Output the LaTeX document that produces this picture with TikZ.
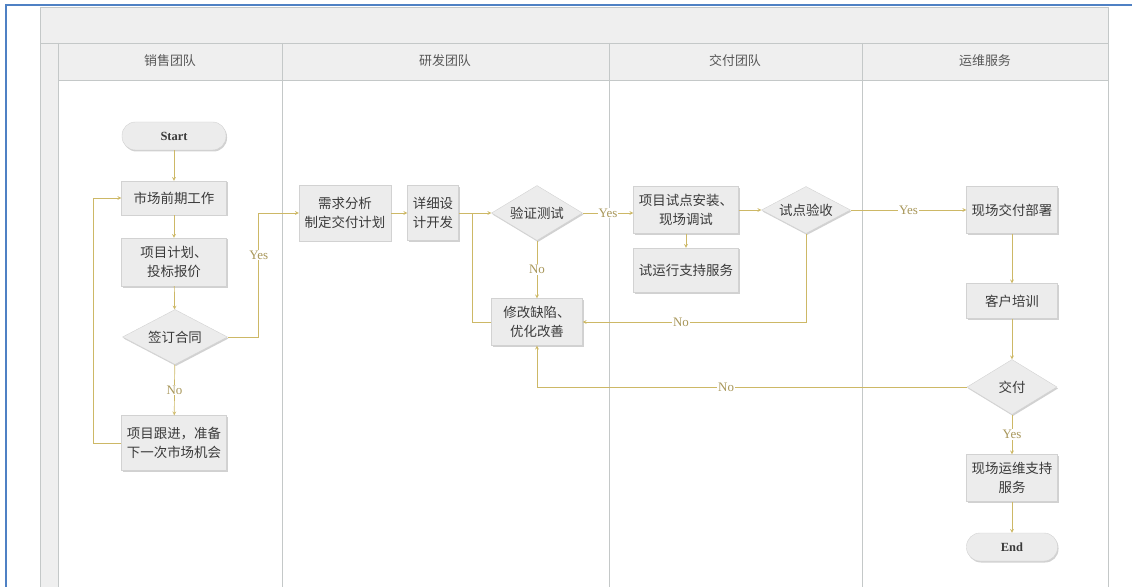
\documentclass[tikz,border=0pt]{standalone}
\usepackage{fontspec}
\setmainfont{Liberation Serif}
\newfontfamily\cjk{Noto Sans CJK SC}
\usetikzlibrary{shapes.geometric,shadows}
\definecolor{flowline}{HTML}{CDB866}
\definecolor{flowlabel}{HTML}{A8975A}
\definecolor{lanegray}{HTML}{C4C8C8}
\definecolor{headfill}{HTML}{EFEFEF}
\definecolor{boxfill}{HTML}{ECECEC}
\definecolor{boxline}{HTML}{D2D2D2}
\definecolor{frameblue}{HTML}{4F81C4}
\definecolor{txt}{HTML}{3A3A3A}

\begin{document}
\begin{tikzpicture}[x=1bp,y=-1bp,
	boxshadow/.style={drop shadow={shadow xshift=1bp,shadow yshift=-1.5bp,fill=black,opacity=0.18}},
	task/.style 2 args={draw=boxline,fill=boxfill,boxshadow,text=txt,align=center,inner sep=0pt,
		minimum width=#1,minimum height=#2,font=\cjk\fontsize{13.5}{19}\selectfont},
	decision/.style 2 args={diamond,aspect=2,draw=boxline,fill=boxfill,boxshadow,text=txt,inner sep=0pt,
		minimum width=#1,minimum height=#2,font=\cjk\fontsize{13.5}{19}\selectfont},
	term/.style={draw=boxline,fill=boxfill,boxshadow,text=txt,rounded corners=13.5bp,inner sep=0pt,
		minimum width=#1,minimum height=28bp,font=\bfseries\fontsize{12.5}{14}\selectfont},
	lane/.style={text=txt!85,font=\cjk\fontsize{13}{15}\selectfont},
	flow/.style={draw=flowline,line width=0.7bp,-stealth},
	link/.style={draw=flowline,line width=0.7bp},
	lbl/.style={fill=white,text=flowlabel,inner sep=1bp,font=\fontsize{13}{13}\selectfont}]
	\useasboundingbox (0,0) rectangle (1136,587);
	\fill[headfill] (40,7) rectangle (1108,80);
	\fill[headfill] (40,43) rectangle (58,587);
	\draw[lanegray,line width=0.8bp] (40,587)--(40,7)--(1108,7)--(1108,587);
	\draw[lanegray,line width=0.8bp] (40,43)--(1108,43);
	\draw[lanegray,line width=0.8bp] (58,80)--(1108,80);
	\foreach \xx in {58,282,609,862}
		\draw[lanegray,line width=0.8bp] (\xx,43)--(\xx,587);
	\draw[frameblue,line width=2bp] (6,587)--(6,5)--(1132,5);
	\node[lane] (salesh) at (170,61) {销售团队};
	\node[lane] (rdh) at (445,61) {研发团队};
	\node[lane] (delivh) at (735,61) {交付团队};
	\node[lane] (opsh) at (985,61) {运维服务};

	\node[term=104bp] (start) at (174,136) {Start};
	\node[task={105bp}{34bp}] (market) at (174,198) {市场前期工作};
	\node[task={105bp}{48bp}] (bid) at (174,262) {项目计划、\\投标报价};
	\node[decision={105bp}{55bp}] (sign) at (175,337) {签订合同};
	\node[task={105bp}{55bp}] (follow) at (174,443) {项目跟进，准备\\下一次市场机会};

	\node[task={92bp}{56bp}] (req) at (345,213) {需求分析\\制定交付计划};
	\node[task={51bp}{55bp}] (dev) at (433,213) {详细设\\计开发};
	\node[decision={91bp}{55bp}] (verify) at (537,213) {验证测试};
	\node[task={91bp}{47bp}] (fix) at (537,322) {修改缺陷、\\优化改善};
	\coordinate (merge) at (472,213);

	\node[task={105bp}{47bp}] (pilot) at (686,210) {项目试点安装、\\现场调试};
	\node[task={105bp}{44bp}] (trial) at (686,270) {试运行支持服务};
	\node[decision={89bp}{47bp}] (accept) at (806,210) {试点验收};

	\node[task={91bp}{47bp}] (deploy) at (1012,210) {现场交付部署};
	\node[task={91bp}{35bp}] (train) at (1012,301) {客户培训};
	\node[decision={90bp}{55bp}] (deliver) at (1012,387) {交付};
	\node[task={91bp}{47bp}] (support) at (1012,478) {现场运维支持\\服务};
	\node[term=91bp] (end) at (1012,547) {End};

	\draw[flow] (start)--(market);
	\draw[flow] (market)--(bid);
	\draw[flow] (bid)--(sign);
	\draw[flow] (sign)-- node[lbl]{No} (follow);
	\draw[flow] (follow.west)--++(-28,0) |- (market.west);
	\draw[flow] (sign.east)--++(31,0) |- node[lbl,pos=0.33]{Yes} (req.west);
	\draw[flow] (req)--(dev);
	\draw[flow] (dev)--(verify);
	\draw[flow] (verify)-- node[lbl]{No} (fix);
	\draw[link] (fix.west) -| (merge);
	\draw[flow] (verify.east)-- node[lbl]{Yes} (verify.east -| pilot.west);
	\draw[flow] (pilot)--(trial);
	\draw[flow] (pilot)--(accept);
	\draw[flow] (accept.south) |- node[lbl,pos=0.78]{No} (fix.east);
	\draw[flow] (accept)-- node[lbl]{Yes} (deploy);
	\draw[flow] (deploy)--(train);
	\draw[flow] (train)--(deliver);
	\draw[flow] (deliver.west) -| node[lbl,pos=0.28]{No} (fix.south);
	\draw[flow] (deliver)-- node[lbl]{Yes} (support);
	\draw[flow] (support)--(end);
\end{tikzpicture}
\end{document}
